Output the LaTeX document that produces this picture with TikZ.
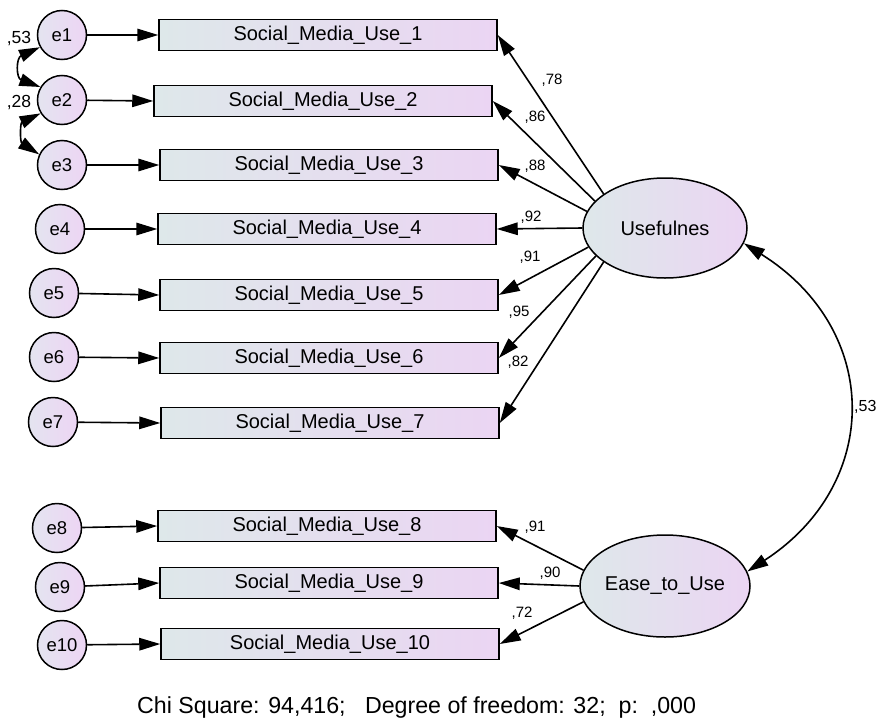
\documentclass[tikz,border=0pt]{standalone}
\usepackage{fontspec}
\setmainfont{Liberation Sans}
\usetikzlibrary{arrows.meta,shapes.geometric}
\definecolor{boxL}{RGB}{222,232,234}
\definecolor{boxR}{RGB}{235,213,243}
\definecolor{cirL}{RGB}{228,228,240}
\definecolor{cirR}{RGB}{237,213,244}
\tikzset{
  obs/.style={draw, line width=1.5pt, rectangle, minimum width=338pt, minimum height=31pt, inner sep=0pt, left color=boxL, right color=boxR, font=\fontsize{20}{22}\selectfont},
  err/.style={draw, line width=1.5pt, circle, minimum size=49pt, inner sep=0pt, left color=cirL, right color=cirR, font=\fontsize{18.5}{20}\selectfont},
  lat/.style={draw, line width=1.5pt, ellipse, inner sep=0pt, left color=boxL, right color=boxR, font=\fontsize{20}{22}\selectfont},
  arr/.style={line width=1.6pt, -{Triangle[length=21pt,width=12.5pt]}},
  cov/.style={line width=1.6pt, {Triangle[length=21pt,width=12.5pt]}-{Triangle[length=21pt,width=12.5pt]}},
  lab/.style={font=\fontsize{15}{16}\selectfont, inner sep=0pt},
  labL/.style={font=\fontsize{17.5}{19}\selectfont, inner sep=0pt},
}
\begin{document}
\begin{tikzpicture}[x=1pt,y=1pt]
\useasboundingbox (0,0) rectangle (877,-720);
% observed boxes
\node[obs] (b1) at (328,-35) {Social\_Media\_Use\_1};
\node[obs] (b2) at (323,-101) {Social\_Media\_Use\_2};
\node[obs] (b3) at (329,-165) {Social\_Media\_Use\_3};
\node[obs] (b4) at (327,-229) {Social\_Media\_Use\_4};
\node[obs] (b5) at (329,-295) {Social\_Media\_Use\_5};
\node[obs] (b6) at (329,-358) {Social\_Media\_Use\_6};
\node[obs] (b7) at (330,-423) {Social\_Media\_Use\_7};
\node[obs] (b8) at (327,-526) {Social\_Media\_Use\_8};
\node[obs] (b9) at (329,-583) {Social\_Media\_Use\_9};
\node[obs] (b10) at (330,-644) {Social\_Media\_Use\_10};
% error circles
\node[err] (e1) at (62,-35) {e1};
\node[err] (e2) at (62,-100) {e2};
\node[err] (e3) at (62,-165) {e3};
\node[err] (e4) at (60,-229) {e4};
\node[err] (e5) at (54,-293) {e5};
\node[err] (e6) at (54,-357) {e6};
\node[err] (e7) at (53,-422) {e7};
\node[err] (e8) at (57,-528) {e8};
\node[err] (e9) at (60,-587) {e9};
\node[err] (e10) at (62,-645) {e10};
% latent
\node[lat, minimum width=164pt, minimum height=100pt] (U) at (665,-228) {Usefulnes};
\node[lat, minimum width=170pt, minimum height=102pt] (E) at (665,-586) {Ease\_to\_Use};
% error arrows
\foreach \i in {1,...,10} { \draw[arr] (e\i) -- (b\i.west); }
% loadings
\draw[arr] (U.151) -- (b1.east);
\draw[arr] (U.159) -- (b2.east);
\draw[arr] (U.168) -- (b3.east);
\draw[arr] (U.180) -- (b4.east);
\draw[arr] (U.194) -- (b5.east);
\draw[arr] (U.202) -- (b6.east);
\draw[arr] (U.209) -- (b7.east);
\draw[arr] (E.169) -- (b8.east);
\draw[arr] (E.180) -- (b9.east);
\draw[arr] (E.191) -- (b10.east);
% covariances
\draw[cov] (U.349) .. controls (882,-330) and (882,-484) .. (E.10);
\draw[cov] (e1.209) .. controls (16,-58) and (16,-78) .. (e2.149);
\draw[cov] (e2.212) .. controls (20,-123) and (20,-142) .. (e3.155);
% labels
\node[lab] (l1) at (552,-80) {,78};
\node[lab] (l2) at (535,-117) {,86};
\node[lab] (l3) at (535,-166) {,88};
\node[lab] (l4) at (531,-217) {,92};
\node[lab] (l5) at (530,-257) {,91};
\node[lab] (l6) at (519,-312) {,95};
\node[lab] (l7) at (518,-362) {,82};
\node[lab] (l8) at (535,-527) {,91};
\node[lab] (l9) at (550,-573) {,90};
\node[lab] (l10) at (522,-613) {,72};
\node[labL] (c12) at (19,-39) {,53};
\node[labL] (c23) at (19,-103) {,28};
\node[lab, font=\fontsize{16}{17}\selectfont, anchor=west] (cUE) at (854,-407) {,53};
\node[font=\fontsize{23.2}{25}\selectfont, inner sep=0pt, anchor=base west] (fit) at (137,-713) {Chi Square: 94,416;\ \ \ Degree of freedom: 32;\ \ p:\ \ ,000};
\end{tikzpicture}
\end{document}
